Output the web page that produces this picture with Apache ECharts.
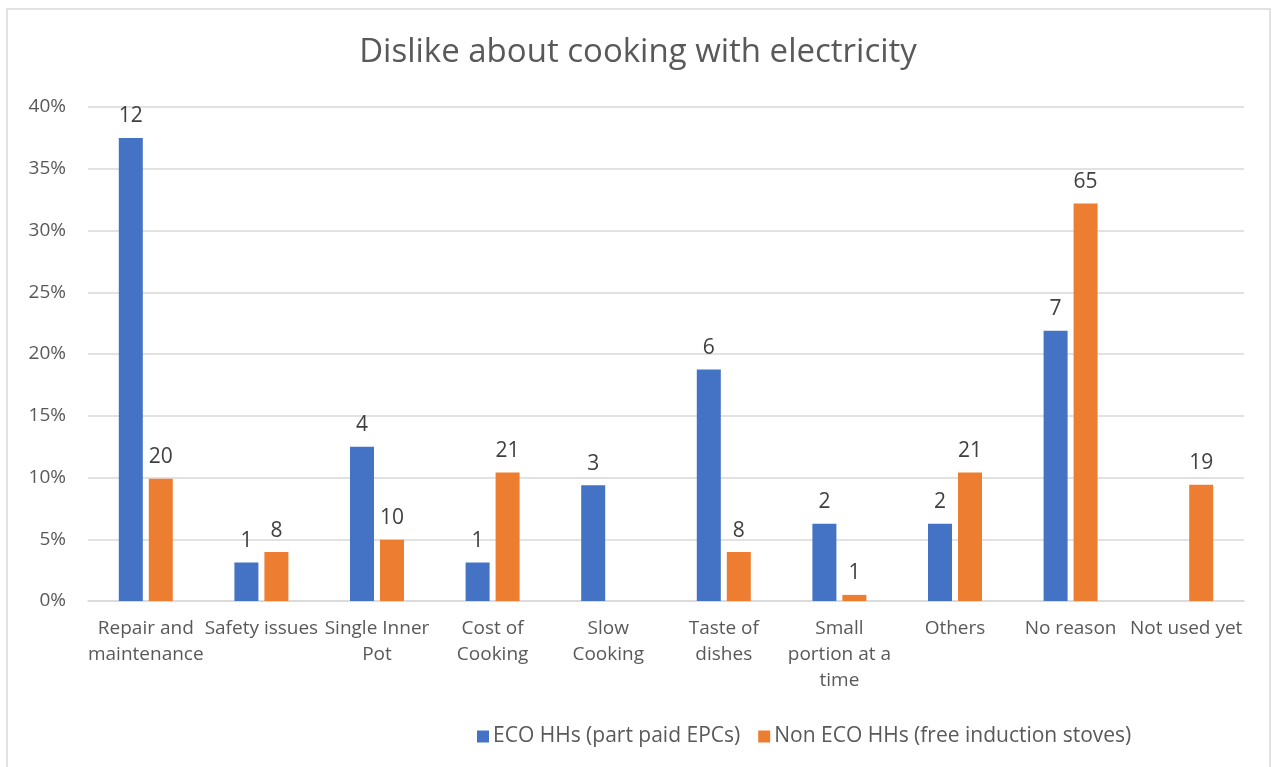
<!DOCTYPE html>
<html>
<head>
<meta charset="utf-8">
<script src="https://cdn.jsdelivr.net/npm/echarts@6/dist/echarts.min.js"></script>
<style>
  html, body { margin: 0; padding: 0; background: #ffffff; }
  #chart { width: 1276px; height: 767px; }
</style>
</head>
<body>
<div id="chart"></div>
<script>
// Reasons households gave for disliking electric cooking
const categories = [
  'Repair and\nmaintenance',
  'Safety issues',
  'Single Inner\nPot',
  'Cost of\nCooking',
  'Slow\nCooking',
  'Taste of\ndishes',
  'Small\nportion at a\ntime',
  'Others',
  'No reason',
  'Not used yet'
];

const seriesNames = ['ECO HHs (part paid EPCs)', 'Non ECO HHs (free induction stoves)'];

// Number of responses per reason (null = no response)
const ecoCounts = [12, 1, 4, 1, 3, 6, 2, 2, 7, null];
const nonEcoCounts = [20, 8, 10, 21, null, 8, 1, 21, 65, 19];

// Respondents in each group; bar heights are shares of these totals
const ecoTotal = 32;
const nonEcoTotal = 202;

const yTicks = { min: 0, max: 40, interval: 5 };

function toShare(counts, total) {
  return counts.map(c => c == null ? null : { value: c / total * 100, count: c });
}

const FONT = '"Open Sans", "Noto Sans", sans-serif';

const chart = echarts.init(document.getElementById('chart'), null, { renderer: 'canvas' });

const labelOpt = {
  show: true,
  position: 'top',
  distance: 11,
  color: '#404040',
  fontFamily: FONT,
  fontSize: 21,
  formatter: p => p.data && p.data.count != null ? String(p.data.count) : ''
};

chart.setOption({
  animation: false,
  backgroundColor: '#ffffff',
  title: {
    text: 'Dislike about cooking with electricity',
    left: 'center',
    top: 31,
    textStyle: { fontFamily: FONT, fontSize: 33, fontWeight: 'normal', color: '#595959' }
  },
  graphic: [{
    type: 'rect',
    shape: { x: 7, y: 9, width: 1263, height: 770 },
    style: { fill: 'none', stroke: '#d9d9d9', lineWidth: 1.5 },
    silent: true
  }],
  legend: {
    data: seriesNames,
    left: 472,
    top: 721,
    itemWidth: 12,
    itemHeight: 12,
    itemGap: 18,
    icon: 'rect',
    textStyle: { fontFamily: FONT, fontSize: 21, color: '#595959', padding: [0, 0, 0, -1] }
  },
  grid: { left: 88, right: 32, top: 107, bottom: 166, containLabel: false },
  xAxis: {
    type: 'category',
    data: categories,
    axisLine: { show: true, lineStyle: { color: '#d9d9d9', width: 1.5 } },
    axisTick: { show: false },
    axisLabel: {
      interval: 0,
      margin: 15,
      color: '#595959',
      fontFamily: FONT,
      fontSize: 19,
      lineHeight: 26
    }
  },
  yAxis: {
    type: 'value',
    min: yTicks.min,
    max: yTicks.max,
    interval: yTicks.interval,
    axisLine: { show: false },
    axisTick: { show: false },
    splitLine: { lineStyle: { color: '#d9d9d9', width: 1.5 } },
    axisLabel: {
      formatter: '{value}%',
      margin: 22,
      color: '#595959',
      fontFamily: FONT,
      fontSize: 19
    }
  },
  series: [
    {
      name: seriesNames[0],
      type: 'bar',
      data: toShare(ecoCounts, ecoTotal),
      barWidth: 24,
      barGap: '25%',
      itemStyle: { color: '#4472C4' },
      label: labelOpt
    },
    {
      name: seriesNames[1],
      type: 'bar',
      data: toShare(nonEcoCounts, nonEcoTotal),
      barWidth: 24,
      barGap: '25%',
      itemStyle: { color: '#ED7D31' },
      label: labelOpt
    }
  ]
});
</script>
</body>
</html>
